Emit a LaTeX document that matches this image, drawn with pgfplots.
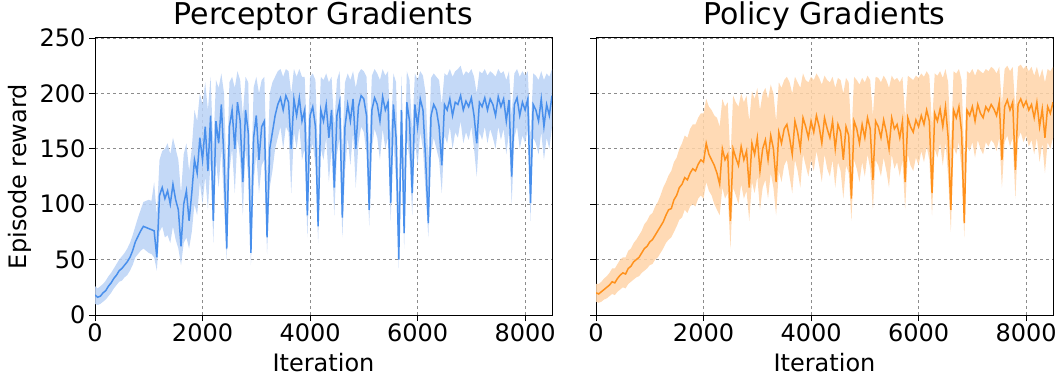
\documentclass[border=0pt]{standalone}
\usepackage{fontspec}
\setmainfont{DejaVu Sans}
\usepackage{pgfplots}
\usepackage{pgfplotstable}
\pgfplotsset{compat=1.18}
\usepgfplotslibrary{fillbetween}
\definecolor{bline}{RGB}{72,143,236}
\definecolor{bband}{RGB}{186,210,246}
\definecolor{oline}{RGB}{255,145,28}
\definecolor{oband}{RGB}{255,212,168}
\definecolor{gridc}{RGB}{140,140,140}

\pgfplotstableread{
x m l h
0 18 10 26
50 16 9 24
100 17 10 26
150 20 12 28
200 22 14 31
250 26 17 35
300 29 20 38
350 33 24 42
400 36 27 46
450 40 30 50
500 42 31 53
550 45 34 56
600 48 36 60
650 52 40 65
700 58 45 72
750 66 52 80
800 71 55 88
850 76 58 95
900 80 60 102
950 79 58 103
1000 78 56 104
1050 77 55 103
1100 76 52 120
1150 52 40 90
1200 108 75 140
1250 115 80 148
1300 105 70 150
1350 112 72 155
1400 100 65 145
1450 118 80 160
1500 104 68 150
1550 95 60 140
1600 62 45 110
1650 100 65 145
1700 112 70 155
1750 85 60 130
1800 110 75 150
1850 140 100 185
1900 128 90 175
1950 160 120 200
2000 140 100 190
2050 170 125 210
2100 130 95 185
2150 180 140 215
2200 85 65 150
2250 175 140 212
2300 155 115 205
2350 190 150 218
2400 140 100 200
2450 60 50 120
2500 170 130 210
2550 185 150 215
2600 150 110 205
2650 192 160 220
2700 175 140 212
2750 120 90 180
2800 185 150 215
2850 165 125 210
2900 56 45 110
2950 160 120 205
3000 180 145 215
3050 140 110 200
3100 170 135 212
3150 175 140 215
3200 70 55 120
3250 150 115 200
3300 165 130 210
3350 180 150 215
3400 190 160 220
3450 196 170 222
3500 185 150 215
3550 198 170 222
3600 192 165 220
3650 150 110 200
3700 195 165 222
3750 180 150 215
3800 196 170 222
3850 175 140 215
3900 185 150 215
3950 90 70 150
4000 180 145 215
4050 188 155 218
4100 170 135 212
4150 80 65 140
4200 185 150 215
4250 175 140 212
4300 190 160 218
4350 160 120 210
4400 185 150 215
4450 115 90 170
4500 180 145 212
4550 192 160 220
4600 88 70 150
4650 170 130 210
4700 190 160 218
4750 175 135 212
4800 195 165 220
4850 150 115 205
4900 188 155 218
4950 198 170 222
5000 195 165 220
5050 180 145 215
5100 95 80 150
5150 185 150 216
5200 196 168 222
5250 190 160 218
5300 175 140 212
5350 197 168 222
5400 185 150 216
5450 192 160 220
5500 101 85 160
5550 190 158 218
5600 160 120 210
5650 50 42 100
5700 185 150 216
5750 74 60 130
5800 192 160 220
5850 175 140 212
5900 110 90 165
5950 190 158 218
6000 170 135 212
6050 195 165 220
6100 185 150 216
6150 140 110 200
6200 83 70 140
6250 180 145 214
6300 190 160 218
6350 185 150 215
6400 170 140 212
6450 135 110 190
6500 190 162 218
6550 185 155 216
6600 195 170 222
6650 180 150 215
6700 192 165 220
6750 190 160 222
6800 198 175 225
6850 185 155 216
6900 193 165 220
6950 188 158 218
7000 196 170 222
7050 180 150 215
7100 155 125 200
7150 192 165 220
7200 188 158 218
7250 196 170 222
7300 185 155 216
7350 195 168 220
7400 190 160 218
7450 180 150 215
7500 197 170 222
7550 188 158 218
7600 195 168 220
7650 175 145 212
7700 194 165 220
7750 125 100 180
7800 190 160 218
7850 196 170 222
7900 180 150 215
7950 192 162 220
8000 185 155 216
8050 195 168 220
8100 101 85 160
8150 190 160 218
8200 185 155 216
8250 175 145 212
8300 195 165 220
8350 170 140 212
8400 190 160 218
8450 180 150 215
8500 198 170 222
}\perceptor

\pgfplotstableread{
x m l h
0 20 12 28
50 19 11 28
100 21 12 30
150 23 14 33
200 25 15 35
250 27 17 38
300 30 19 42
350 29 18 42
400 33 21 46
450 36 23 50
500 38 25 52
550 37 24 52
600 42 28 58
650 44 30 60
700 48 32 65
750 50 34 68
800 52 35 72
850 56 38 76
900 60 40 82
950 62 42 85
1000 66 45 90
1050 68 46 92
1100 72 50 98
1150 76 52 102
1200 80 56 108
1250 84 60 115
1300 90 65 120
1350 95 68 126
1400 96 70 130
1450 104 75 138
1500 108 80 142
1550 115 86 150
1600 118 88 155
1650 124 95 162
1700 122 92 160
1750 128 98 168
1800 132 100 172
1850 130 98 172
1900 136 105 178
1950 140 108 182
2000 138 105 182
2050 155 120 195
2100 145 112 188
2150 140 108 185
2200 135 100 180
2250 128 95 178
2300 118 90 170
2350 150 115 195
2400 140 105 188
2450 145 110 192
2500 85 60 140
2550 150 115 198
2600 142 108 192
2650 135 100 188
2700 152 118 200
2750 140 105 192
2800 148 112 198
2850 115 85 175
2900 155 120 202
2950 145 110 195
3000 160 125 205
3050 130 95 185
3100 150 115 200
3150 158 122 205
3200 140 105 195
3250 162 128 208
3300 150 115 200
3350 120 90 175
3400 165 130 210
3450 155 120 205
3500 168 135 212
3550 172 140 215
3600 160 125 210
3650 145 110 200
3700 175 140 215
3750 165 130 210
3800 150 115 205
3850 178 145 218
3900 170 135 212
3950 160 125 210
4000 175 140 215
4050 165 130 212
4100 180 148 218
4150 170 135 214
4200 155 120 208
4250 178 145 216
4300 168 132 212
4350 160 125 210
4400 175 140 215
4450 150 115 205
4500 172 138 214
4550 165 130 212
4600 140 105 200
4650 170 135 214
4700 162 128 210
4750 105 85 160
4800 175 140 215
4850 168 132 212
4900 155 120 208
4950 172 138 214
5000 160 125 210
5050 178 145 216
5100 168 132 212
5150 122 95 180
5200 175 140 215
5250 170 135 214
5300 160 125 210
5350 176 142 216
5400 165 130 212
5450 150 115 205
5500 178 145 216
5550 168 132 212
5600 172 138 214
5650 160 125 210
5700 175 140 215
5750 120 95 178
5800 178 145 216
5850 170 135 214
5900 165 130 212
5950 176 142 216
6000 170 135 214
6050 180 148 218
6100 172 138 215
6150 185 152 220
6200 175 140 216
6250 110 90 170
6300 182 150 218
6350 175 142 216
6400 186 155 220
6450 170 135 214
6500 188 156 222
6550 160 125 210
6600 95 75 150
6650 185 152 220
6700 178 145 218
6750 188 156 222
6800 165 130 212
6850 83 70 140
6900 185 152 220
6950 180 148 218
7000 188 156 222
7050 175 142 216
7100 190 158 222
7150 182 150 220
7200 178 145 218
7250 188 156 222
7300 184 152 220
7350 190 158 224
7400 186 155 222
7450 180 148 218
7500 192 160 224
7550 140 115 190
7600 188 156 222
7650 194 162 225
7700 185 152 220
7750 192 160 224
7800 131 105 185
7850 190 158 224
7900 195 165 226
7950 188 156 222
8000 193 162 225
8050 185 152 220
8100 190 158 224
8150 178 145 216
8200 192 160 224
8250 170 138 214
8300 186 155 222
8350 160 128 210
8400 188 156 222
8450 182 150 220
8500 192 160 224
}\policy

\pgfplotsset{
  panel/.style={
    scale only axis,
    width=457pt, height=277pt,
    xmin=0, xmax=8500, ymin=0, ymax=250,
    xtick={0,2000,4000,6000,8000},
    ytick={0,50,100,150,200,250},
    scaled x ticks=false,
    /pgf/number format/assume math mode=true,
    /pgf/number format/set thousands separator={},
    tick align=outside,
    tick pos=left,
    major tick length=6pt,
    every tick/.style={black, line width=0.9pt},
    axis line style={black, line width=1pt},
    grid=major,
    major grid style={gridc, dashed, line width=0.7pt},
    xticklabel style={font=\fontsize{24}{28}\selectfont, yshift=1pt},
    yticklabel style={font=\fontsize{24}{28}\selectfont},
    label style={font=\fontsize{24}{28}\selectfont},
    title style={font=\fontsize{30}{34}\selectfont, inner sep=0pt, at={(axis description cs:0.5,1.058)}, anchor=center},
    xlabel={Iteration},
    xlabel style={inner sep=0pt, at={(axis description cs:0.5,-0.203)}, anchor=base},
  }
}

\begin{document}
\begin{tikzpicture}
\begin{axis}[panel, title={Perceptor Gradients}, ylabel={Episode reward},
  ylabel style={inner sep=0pt, at={(axis description cs:-0.165,0.5)}, anchor=center}]
  \addplot[name path=hA, draw=none, forget plot] table[x=x, y=h] {\perceptor};
  \addplot[name path=lA, draw=none, forget plot] table[x=x, y=l] {\perceptor};
  \addplot[bband, fill opacity=0.85, draw=none] fill between[of=hA and lA];
  \addplot[bline, line width=1.5pt, mark=none] table[x=x, y=m] {\perceptor};
\end{axis}
\begin{axis}[panel, xshift=501pt, title={Policy Gradients}, yticklabels={}]
  \addplot[name path=hB, draw=none, forget plot] table[x=x, y=h] {\policy};
  \addplot[name path=lB, draw=none, forget plot] table[x=x, y=l] {\policy};
  \addplot[oband, fill opacity=0.85, draw=none] fill between[of=hB and lB];
  \addplot[oline, line width=1.5pt, mark=none] table[x=x, y=m] {\policy};
\end{axis}
\path (-95pt,-65pt) rectangle (967pt,315pt);
\end{tikzpicture}
\end{document}
